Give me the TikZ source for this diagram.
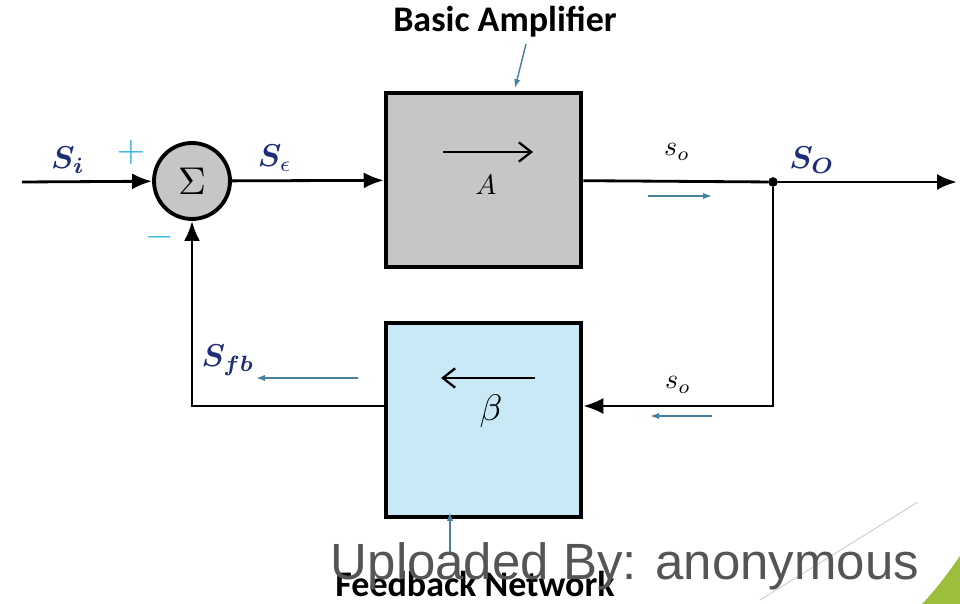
\documentclass[tikz,border=0pt]{standalone}
\usepackage{amsmath,bm,graphicx}
\usepackage{fontspec}
\usetikzlibrary{arrows.meta}
\newfontfamily\carlito{Carlito}
\newfontfamily\liber{Liberation Sans}
\definecolor{navy}{RGB}{30,45,120}
\definecolor{signcyan}{RGB}{60,180,225}
\definecolor{hintblue}{RGB}{70,130,160}
\definecolor{ampgray}{RGB}{198,198,198}
\definecolor{fbblue}{RGB}{202,233,246}
\definecolor{markgray}{RGB}{85,85,85}
\definecolor{swoosh}{RGB}{155,190,60}
\tikzset{
  block/.style={draw, rectangle, line width=2.6pt, minimum width=3.9cm},
  sig/.style={line width=1.6pt, -{Latex[length=0.4cm,width=0.32cm]}},
  wire/.style={line width=1.6pt},
  hint/.style={hintblue, line width=0.8pt, -{Latex[length=5pt,width=3.5pt]}},
  inner/.style={line width=1.3pt, -{Straight Barb[length=7pt,width=11pt]}},
  siglabel/.style={navy, inner sep=1pt, scale=1.8, transform shape},
  vallabel/.style={inner sep=1pt, scale=1.6, transform shape},
  signmark/.style={signcyan, inner sep=1pt, scale=2.1, transform shape},
  title/.style={inner sep=1pt, font=\carlito\bfseries\fontsize{20.5}{23}\selectfont}
}
\begin{document}
\begin{tikzpicture}[x=0.02cm, y=-0.02cm]
\useasboundingbox (0,0) rectangle (960,604);

% Sommateur et blocs
\node[draw, circle, line width=2.2pt, fill=ampgray, minimum size=1.52cm, inner sep=0pt] (sum) at (192,181) {\scalebox{2.2}{$\Sigma$}};
\node[block, fill=ampgray, minimum height=3.48cm] (amp) at (483.5,180) {};
\node[block, fill=fbblue, minimum height=3.88cm] (fb) at (483.5,420) {};
\node[draw, circle, fill, inner sep=0pt, minimum size=5pt] (dot) at (773,182) {};
\coordinate (in) at (22,182);
\coordinate (out) at (957,182);

% Connexions
\draw[sig] (in) -- (sum);
\draw[sig] (sum) -- (amp);
\draw[wire] (amp) -- (dot);
\draw[sig] (dot) -- (out);
\draw[sig] (dot) |- ([yshift=0.28cm]fb.east);
\draw[sig] ([yshift=0.28cm]fb.west) -| (sum.south);

% Fleches internes
\draw[inner] (443,152) -- (533,152);
\node[scale=1.6, transform shape] (gainA) at (486,185) {$A$};
\draw[inner] (535,378) -- (441,378);
\node[scale=2.1, transform shape] (gainB) at (491,411) {$\beta$};

% Etiquettes
\node[siglabel] (si) at (68,160) {$\bm{S_i}$};
\node[signmark] (plus) at (131,152) {$+$};
\node[signmark] (minus) at (160,237) {$-$};
\node[siglabel] (se) at (275,158) {$\bm{S}_{\epsilon}$};
\node[siglabel] (sfb) at (228,360) {$\bm{S_{fb}}$};
\node[siglabel] (sout) at (812,160) {$\bm{S_O}$};
\node[vallabel] (so1) at (677,152) {$s_o$};
\node[vallabel] (so2) at (678,385) {$s_o$};

% Sens du signal
\draw[hint] (648,196) -- (712,196);
\draw[hint] (712,416) -- (650,416);
\draw[hint] (358,378) -- (256,378);

% Titres
\node[title] (ampname) at (505,22) {Basic Amplifier};
\node[title] (fbname) at (475,584) {Feedback Network};
\draw[hint] (526,44) -- (515,88);
\draw[hint] (450,552) -- (450,512);

% Filigrane
\draw[gray!35, line width=0.6pt] (918,502) -- (760,600);
\fill[swoosh] (922,604) .. controls (940,585) and (950,570) .. (960,556) -- (960,604) -- cycle;
\node[markgray, font=\liber\fontsize{29}{32}\selectfont] (upload) at (625,566) {Uploaded By: anonymous};

\end{tikzpicture}
\end{document}
